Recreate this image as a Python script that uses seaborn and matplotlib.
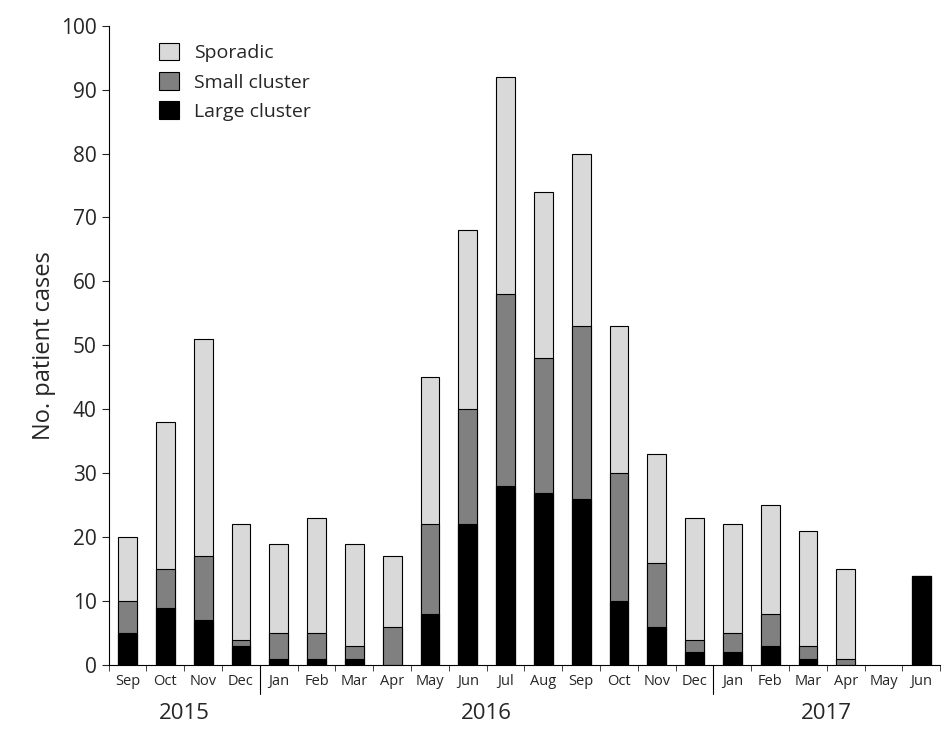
import matplotlib
matplotlib.use("Agg")
import matplotlib.pyplot as plt
import seaborn as sns
import pandas as pd

months = ["Sep", "Oct", "Nov", "Dec", "Jan", "Feb", "Mar", "Apr", "May", "Jun", "Jul", "Aug",
          "Sep", "Oct", "Nov", "Dec", "Jan", "Feb", "Mar", "Apr", "May", "Jun"]
large = [5, 9, 7, 3, 1, 1, 1, 0, 8, 22, 28, 27, 26, 10, 6, 2, 2, 3, 1, 0, 0, 14]
small = [5, 6, 10, 1, 4, 4, 2, 6, 14, 18, 30, 21, 27, 20, 10, 2, 3, 5, 2, 1, 0, 0]
sporadic = [10, 23, 34, 18, 14, 18, 16, 11, 23, 28, 34, 26, 27, 23, 17, 19, 17, 17, 18, 14, 0, 0]
years = ["2015", "2016", "2017"]

sns.set_style("white")
plt.rcParams["font.family"] = ["Open Sans", "DejaVu Sans"]

df = pd.DataFrame({"pos": [str(i) for i in range(len(months))], "large": large,
                   "small": small, "sporadic": sporadic})
df["small_top"] = df["large"] + df["small"]
df["total"] = df["small_top"] + df["sporadic"]

fig = plt.figure(figsize=(9.45, 7.31), dpi=100)
ax = fig.add_axes([0.115, 0.09, 0.88, 0.875])
kw = dict(x="pos", width=0.5, edgecolor="black", linewidth=0.8, ax=ax, saturation=1)
sns.barplot(data=df, y="total", color="#d9d9d9", label="Sporadic", **kw)
sns.barplot(data=df, y="small_top", color="#808080", label="Small cluster", **kw)
sns.barplot(data=df, y="large", color="black", label="Large cluster", **kw)
# hide zero-height bars (no outline line on empty months)
for p in ax.patches:
    if p.get_height() == 0:
        p.set_visible(False)

ax.set_ylim(0, 100)
ax.set_xlim(-0.5, len(months) - 0.5)
ax.set_yticks(range(0, 101, 10))
ax.tick_params(axis="y", labelsize=15, direction="out", length=5, left=True)
ax.set_ylabel("No. patient cases", fontsize=17)
ax.set_xlabel("")
ax.set_xticks(range(len(months)))
ax.set_xticklabels(months, fontsize=10.5)
ax.tick_params(axis="x", length=0, pad=6)
ax.set_xticks([i - 0.5 for i in range(len(months) + 1)], minor=True)
ax.tick_params(axis="x", which="minor", length=4, bottom=True)
for xb in [3.5, 15.5]:
    ax.plot([xb, xb], [0, -0.045], transform=ax.get_xaxis_transform(), color="black",
            lw=0.8, clip_on=False)
for xc, yr in zip([1.5, 9.5, 18.5], years):
    ax.text(xc, -0.075, yr, transform=ax.get_xaxis_transform(), ha="center", va="center",
            fontsize=16)
for s in ["top", "right"]:
    ax.spines[s].set_visible(False)
for s in ["left", "bottom"]:
    ax.spines[s].set_color("black")

ax.legend(loc="upper left", bbox_to_anchor=(0.04, 1.0), frameon=False, fontsize=14,
          handlelength=1.0, handleheight=1.0, labelspacing=0.5)
fig.savefig("out.png", dpi=100)
